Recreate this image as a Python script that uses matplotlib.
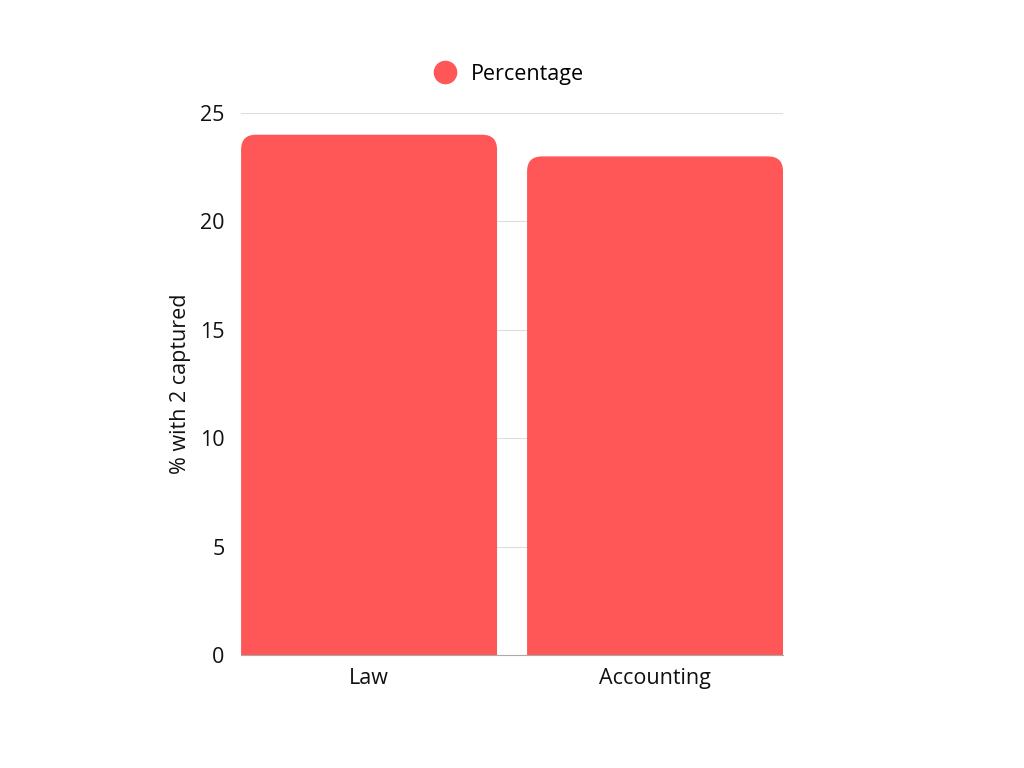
import matplotlib
matplotlib.use('Agg')
from matplotlib import pyplot as plt
from matplotlib.patches import FancyBboxPatch
from matplotlib.lines import Line2D

plt.rcParams['font.family'] = ['Open Sans', 'DejaVu Sans']

categories = ['Law', 'Accounting']
values = [24, 23]
color = '#ff5757'

fig = plt.figure(figsize=(10.24, 7.68), dpi=100)
ax = fig.add_axes([0.2354, 0.1471, 0.5293, 0.7057])

bar_w = 0.895
for i, v in enumerate(values):
    # rounded top corners; bottom is pushed below 0 and clipped by the axes
    box = FancyBboxPatch((i - bar_w / 2, -3), bar_w, v + 3,
                         boxstyle='round,pad=0,rounding_size=0.052',
                         mutation_aspect=13.2, fc=color, ec='none', zorder=3)
    ax.add_patch(box)

ax.set_xlim(-0.4476, 1.4476)
ax.set_ylim(0, 25)
ax.set_yticks([0, 5, 10, 15, 20, 25])
ax.set_xticks(range(len(categories)))
ax.set_xticklabels(categories)
ax.grid(axis='y', color='#dddddd', lw=0.8, zorder=0)
for s in ['top', 'right', 'left']:
    ax.spines[s].set_visible(False)
ax.spines['bottom'].set_color('#aaaaaa')
ax.spines['bottom'].set_zorder(4)
ax.tick_params(length=0, labelsize=15.5, colors='#111111')
ax.tick_params(axis='y', pad=12)
ax.tick_params(axis='x', pad=9)
ax.set_ylabel('% with 2 captured', fontsize=15.5, labelpad=6, color='#111111')

handle = Line2D([], [], marker='o', ls='none', color=color, markersize=16)
fig.legend([handle], ['Percentage'], loc='center', bbox_to_anchor=(0.492, 0.903),
           frameon=False, fontsize=15.5, handletextpad=0.2)

fig.savefig('out.png', dpi=100)
